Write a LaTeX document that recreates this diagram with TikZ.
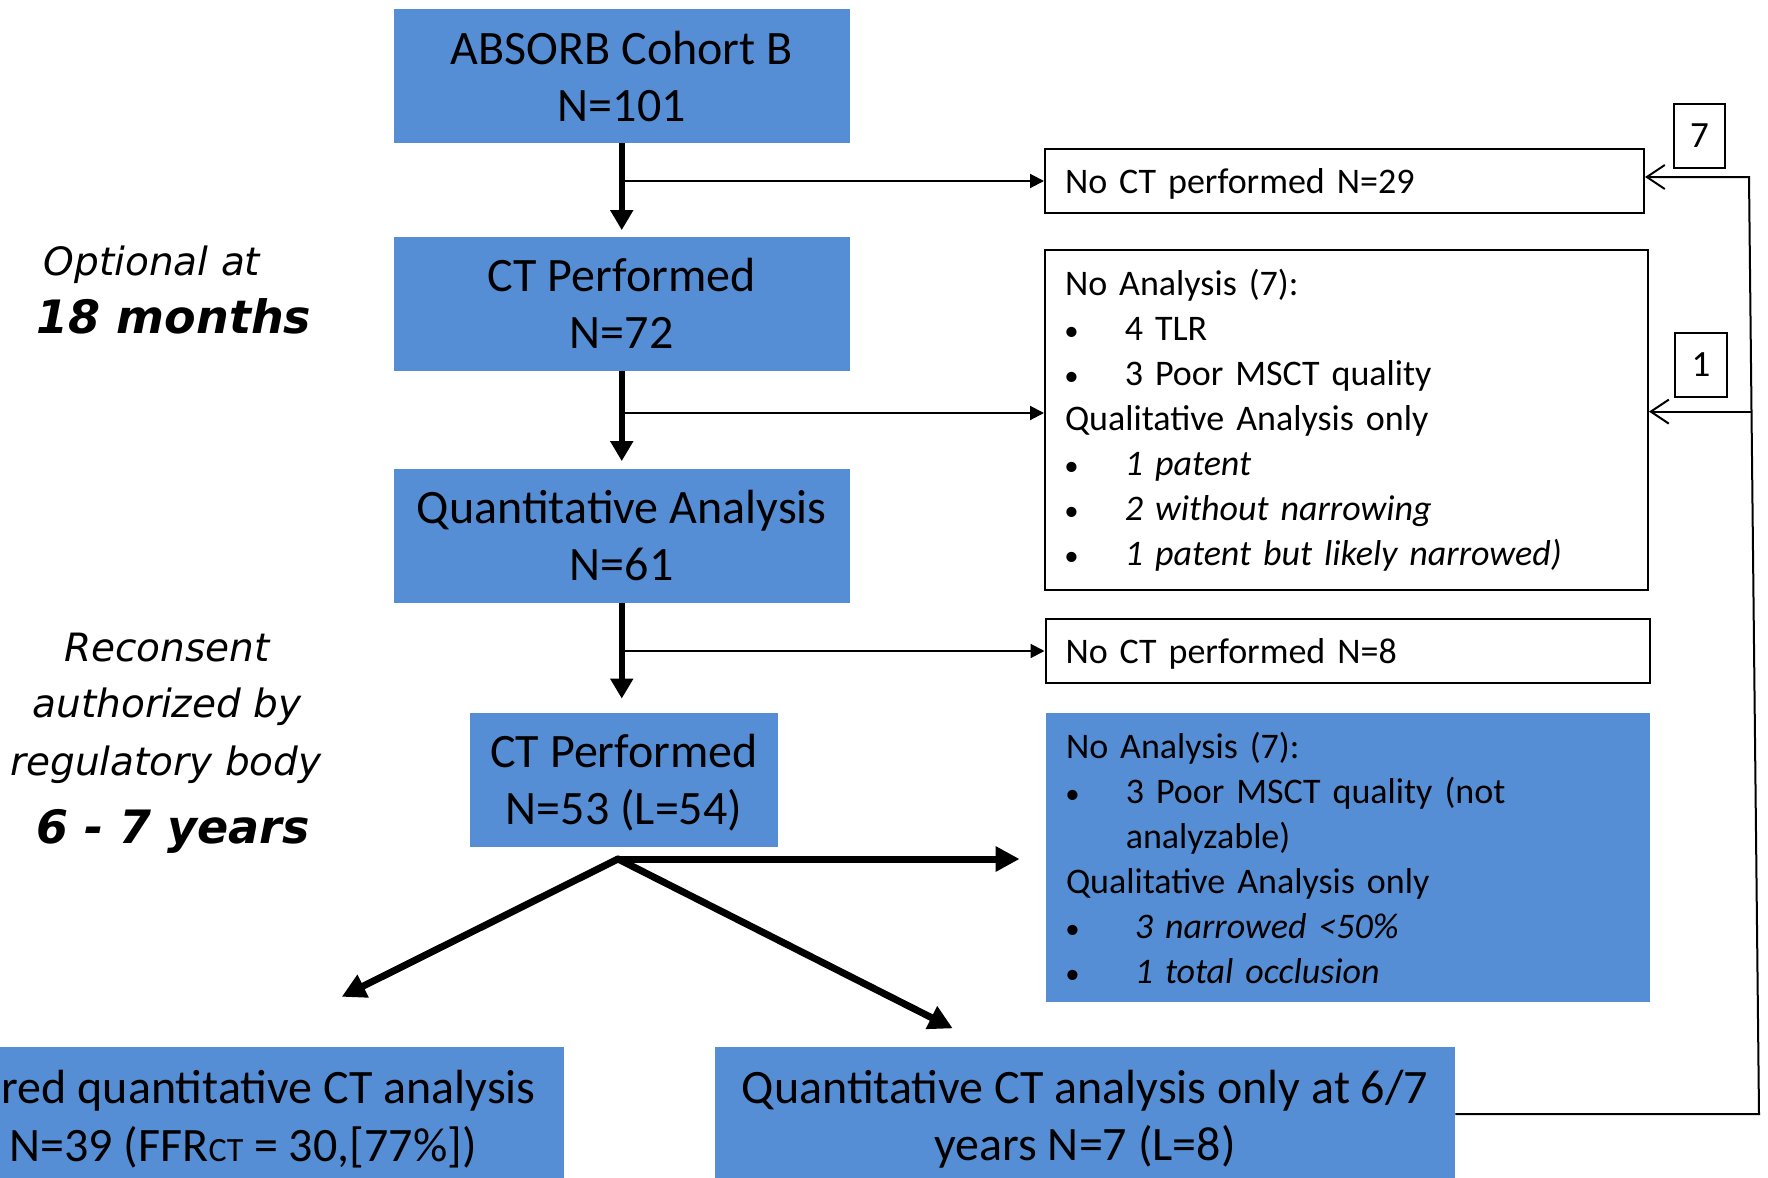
\documentclass[tikz,border=0pt]{standalone}
\usepackage{fontspec}
\setmainfont{Carlito}
\newfontfamily\labfont{DejaVu Sans}
\usetikzlibrary{arrows.meta}
\definecolor{boxblue}{HTML}{558ED5}
\newcommand{\bulmark}{\makebox[6.5pt][c]{\scalebox{0.8}{•}}}
\newcommand{\mybul}{\makebox[29.9pt][l]{\bulmark}}
\newcommand{\mybulit}{\makebox[34.4pt][l]{\bulmark}}
\begin{document}
\begin{tikzpicture}[x=0.5pt,y=-0.5pt,
  bluebox/.style={fill=boxblue, draw=none, align=center, font=\fontsize{24}{28.5}\selectfont, inner sep=0pt, minimum height=67pt},
  bigtxt/.style={font=\fontsize{24}{28.5}\selectfont, inner sep=0pt, align=center},
  whitebox/.style={draw=black, line width=1pt, fill=white, inner ysep=0pt, inner xsep=10pt, align=left},
  smalltxt/.style={font=\fontsize{18}{22.5}\selectfont},
  thickarrow/.style={line width=2.8pt, -{Triangle[length=10pt,width=11pt]}},
  thinarrow/.style={line width=1pt, -{Triangle[length=7pt,width=7pt]}},
  fatarrow/.style={line width=3.5pt, line cap=round, -{Triangle[length=12pt,width=12pt]}},
  backarrow/.style={line width=1pt, -{Straight Barb[length=9pt,width=12pt]}},
  lab/.style={font=\labfont\itshape\fontsize{19.5}{24}\selectfont, inner sep=0pt},
  labbig/.style={font=\labfont\bfseries\itshape\fontsize{23}{28}\selectfont, inner sep=0pt},
  numbox/.style={draw=black, line width=1pt, inner sep=0pt, minimum width=25.5pt, minimum height=32pt, font=\fontsize{18.5}{22.5}\selectfont},
]
\useasboundingbox (0,0) rectangle (1768,1178);
\clip (0,0) rectangle (1768,1178);
\fill[white] (0,0) rectangle (1768,1178);

% main column
\node[bluebox, minimum width=228.25pt] (b1) at (621.75,76) {ABSORB Cohort B\\N=101};
\node[bluebox, minimum width=228.25pt] (b2) at (621.75,303.5) {CT Performed\\N=72};
\node[bluebox, minimum width=228.25pt] (b3) at (621.75,535.5) {Quantitative Analysis\\N=61};
\node[bluebox, minimum width=154pt] (b4) at (624,780) {};
\node[bigtxt] (b4t) at (624,783) {CT Performed\\N=53 (L=54)};

% right column
\node[whitebox, smalltxt, text width=279.5pt, minimum height=32pt, text depth=0pt] (nct1) at (1344.5,181) {No CT performed N=29};
\node[whitebox, smalltxt, text width=281.5pt, minimum height=170pt] (na1) at (1346.5,420) {No Analysis (7):\\
\mybul 4 TLR\\
\mybul 3 Poor MSCT quality\\
Qualitative Analysis only\\
\mybul\textit{1 patent}\\
\mybul\textit{2 without narrowing}\\
\mybul\textit{1 patent but likely narrowed)}};
\node[whitebox, smalltxt, text width=282pt, minimum height=32pt, text depth=0pt] (nct2) at (1347.5,651) {No CT performed N=8};
\node[fill=boxblue, smalltxt, inner ysep=0pt, inner xsep=10pt, align=left, text width=282pt, minimum height=144.5pt] (nd2) at (1348,857.5) {No Analysis (7):\\
\mybul 3 Poor MSCT quality (not\\
\hspace*{29.9pt}analyzable)\\
Qualitative Analysis only\\
\mybulit\textit{3 narrowed <50\%}\\
\mybulit\textit{1 total occlusion}};

\node[numbox] (n7) at (1699.5,136) {7};
\node[numbox, minimum width=26pt] (n1) at (1701,365) {1};

% bottom boxes
\node[bluebox, minimum width=332pt] (bl) at (232,1114) {};
\node[bigtxt, anchor=east] (bl1) at (536,1091) {red quantitative CT analysis};
\node[bigtxt, anchor=west] (bl2) at (9,1147) {N=39 (FFR{\fontsize{17}{17}\selectfont CT} = 30,[77\%])};
\node[bluebox, minimum width=370pt] (br) at (1085,1114) {};
\node[bigtxt] (brt) at (1085,1119) {Quantitative CT analysis only at 6/7\\years N=7 (L=8)};

% left labels
\node[lab] (l1) at (152,265) {Optional at};
\node[labbig] (l2) at (174,316) {18 months};
\node[lab] (l3) at (167,648) {Reconsent};
\node[lab] (l4) at (167,707) {authorized by};
\node[lab] (l5) at (166,765) {regulatory body};
\node[labbig] (l6) at (173,831) {6 - 7 years};

% vertical flow
\draw[thickarrow, shorten >=3pt] (b1.south) -- (b2.north);
\draw[thickarrow, shorten >=3.5pt] (b2.south) -- (b3.north);
\draw[thickarrow, shorten >=7pt] (b3.south) -- (b3.south |- b4.north);

% branches
\draw[thinarrow] (b1.south |- nct1.west) -- (nct1.west);
\coordinate (j2) at (621.75,413);
\draw[thinarrow] (j2) -- (j2 -| na1.west);
\draw[thinarrow] (b3.south |- nct2.west) -- (nct2.west);

% split
\coordinate (split) at (618,859);
\coordinate (tipL) at (341.7,996.8);
\coordinate (tipR) at (952.8,1028.4);
\draw[fatarrow, shorten >=13pt] (split) -- (split -| nd2.west);
\draw[fatarrow] (split) -- (tipL);
\draw[fatarrow] (split) -- (tipR);

% return lines
\coordinate (rb) at (1759,1114);
\coordinate (rt) at (1749,177);
\coordinate (rm) at (1752,411.6);
\draw[backarrow] (br.east) -- (rb) -- (rt) -- (nct1.east |- rt);
\draw[backarrow] (rm) -- (rm -| na1.east);
\end{tikzpicture}
\end{document}
